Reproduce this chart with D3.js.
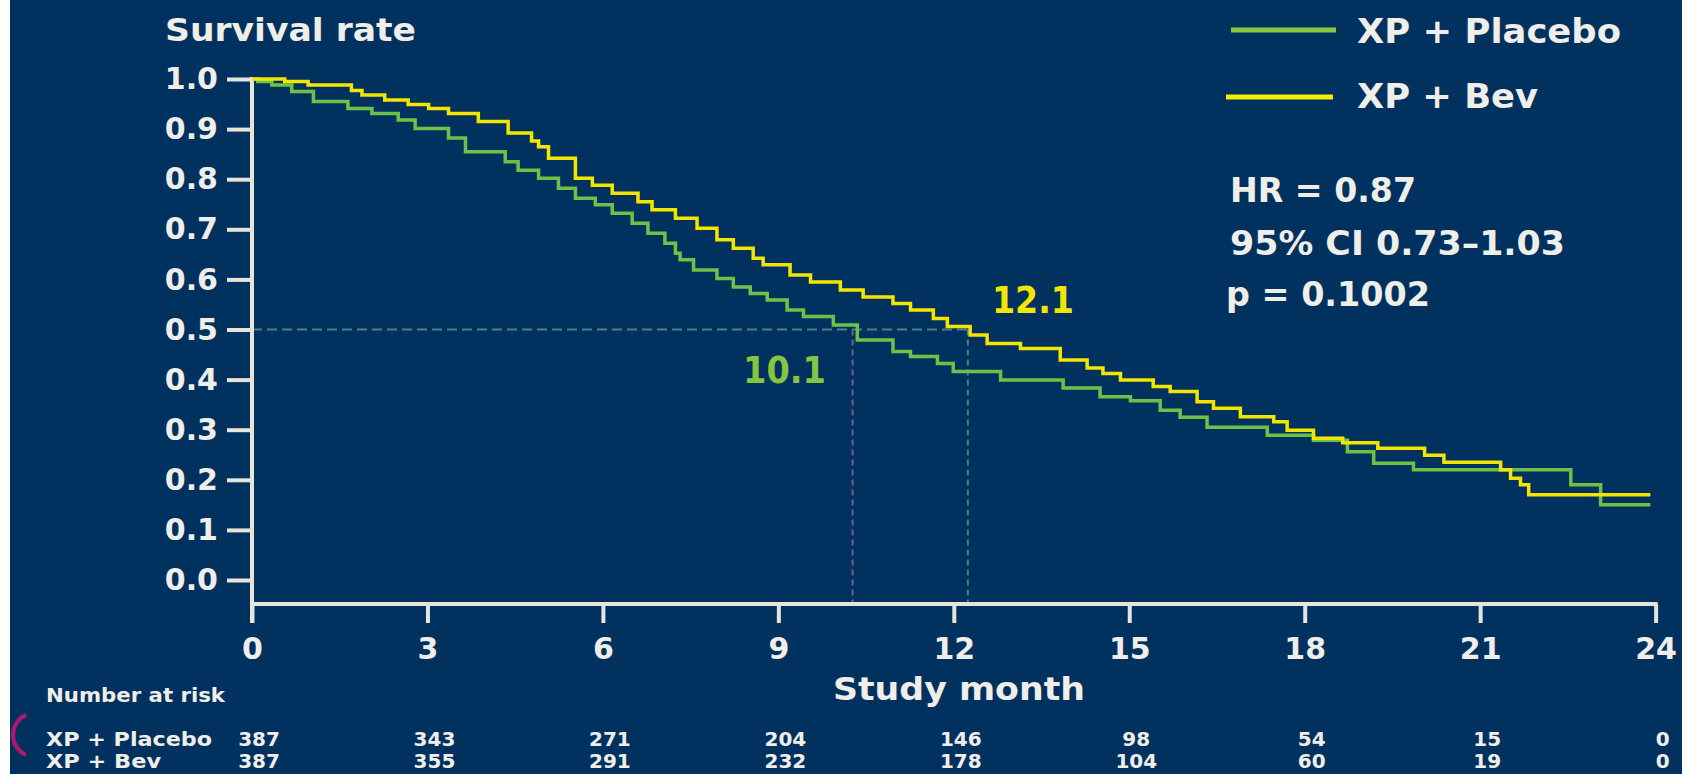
<!DOCTYPE html>
<html>
<head>
<meta charset="utf-8">
<title>Overall survival: XP + Bev vs XP + Placebo</title>
<style>
  html, body { margin: 0; padding: 0; background: #01325f; }
  svg { display: block; }
  text { font-family: "DejaVu Sans", sans-serif; font-weight: bold; fill: #f0eee8; }
</style>
</head>
<body>
<svg id="chart"></svg>
<script src="https://cdn.jsdelivr.net/npm/d3@7"></script>
<script>
// ---- data ----
const monthTicks = [0, 3, 6, 9, 12, 15, 18, 21, 24]
const survivalTicks = [0, 0.1, 0.2, 0.3, 0.4, 0.5, 0.6, 0.7, 0.8, 0.9, 1.0]

const seriesNames = ['XP + Placebo', 'XP + Bev']

// [month, survival] at each visible step
const placeboSteps = [
  [0, 1.0], [0.10, 0.995], [0.34, 0.988], [0.68, 0.975], [1.05, 0.955], [1.64, 0.941],
  [2.05, 0.931], [2.50, 0.918], [2.79, 0.901], [3.36, 0.882], [3.65, 0.855], [4.33, 0.835],
  [4.55, 0.818], [4.90, 0.802], [5.24, 0.782], [5.53, 0.762], [5.87, 0.749], [6.16, 0.732],
  [6.50, 0.712], [6.77, 0.692], [7.06, 0.672], [7.24, 0.652], [7.32, 0.639], [7.55, 0.619],
  [7.95, 0.602], [8.23, 0.585], [8.52, 0.572], [8.81, 0.559], [9.15, 0.539], [9.43, 0.526],
  [9.94, 0.509], [10.35, 0.479], [10.96, 0.456], [11.26, 0.446], [11.72, 0.432], [11.99, 0.416],
  [12.80, 0.399], [13.87, 0.383], [14.50, 0.366], [15.02, 0.358], [15.53, 0.339], [15.87, 0.325],
  [16.33, 0.305], [17.36, 0.289], [18.15, 0.279], [18.73, 0.256], [19.18, 0.233], [19.86, 0.220],
  [22.55, 0.190], [23.06, 0.150], [23.91, 0.150]
]

const bevSteps = [
  [0, 1.0], [0.56, 0.995], [0.96, 0.988], [1.70, 0.977], [1.88, 0.968], [2.27, 0.958],
  [2.67, 0.949], [3.02, 0.941], [3.36, 0.931], [3.87, 0.915], [4.38, 0.892], [4.78, 0.876],
  [4.90, 0.865], [5.07, 0.842], [5.53, 0.802], [5.82, 0.788], [6.16, 0.772], [6.60, 0.755],
  [6.84, 0.739], [7.24, 0.722], [7.61, 0.702], [7.95, 0.679], [8.23, 0.662], [8.57, 0.642],
  [8.74, 0.629], [9.20, 0.609], [9.55, 0.595], [10.06, 0.579], [10.45, 0.565], [10.96, 0.552],
  [11.26, 0.539], [11.65, 0.522], [11.89, 0.506], [12.28, 0.489], [12.57, 0.472], [13.14, 0.462],
  [13.82, 0.439], [14.28, 0.423], [14.55, 0.412], [14.85, 0.399], [15.41, 0.386], [15.70, 0.376],
  [16.16, 0.356], [16.44, 0.343], [16.90, 0.326], [17.47, 0.316], [17.70, 0.299], [18.15, 0.283],
  [18.65, 0.274], [19.25, 0.263], [20.05, 0.249], [20.38, 0.235], [21.35, 0.220], [21.52, 0.203],
  [21.69, 0.190], [21.83, 0.170], [23.91, 0.170]
]

const riskPlacebo = [387, 343, 271, 204, 146, 98, 54, 15, 0]
const riskBev = [387, 355, 291, 232, 178, 104, 60, 19, 0]

const medianLabels = ['10.1', '12.1']
const medianLineMonths = [10.27, 12.24]   // where the dotted drop lines sit in the picture
const statsLines = ['HR = 0.87', '95% CI 0.73\u20131.03', 'p = 0.1002']

// ---- layout ----
const WIDTH = 1682
const HEIGHT = 774
const AXIS_Y = 604
const GREEN = '#6cc247'
const YELLOW = '#f2e600'
const AXIS_COLOR = '#e8e4da'

const svg = d3.select('#chart')
    .attr('width', WIDTH)
    .attr('height', HEIGHT)

svg.append('rect')
    .attr('width', WIDTH).attr('height', HEIGHT)
    .attr('fill', '#01325f')

// white strip on the left edge of the slide
svg.append('rect')
    .attr('x', 0).attr('y', 0).attr('width', 10).attr('height', HEIGHT)
    .attr('fill', '#ffffff')

const x = d3.scaleLinear().domain([0, 24]).range([252, 1655.6])
const y = d3.scaleLinear().domain([0, 1]).range([580, 79])

// reference lines at median survival
const refs = svg.append('g').attr('class', 'refs')
refs.append('line')
    .attr('x1', x(0)).attr('x2', x(medianLineMonths[1]))
    .attr('y1', y(0.5)).attr('y2', y(0.5))
    .attr('stroke', '#4d8084').attr('stroke-width', 2)
    .attr('stroke-dasharray', '10,5')
refs.selectAll('line.drop')
    .data(medianLineMonths)
    .enter().append('line')
    .attr('class', 'drop')
    .attr('x1', d => x(d)).attr('x2', d => x(d))
    .attr('y1', y(0.5)).attr('y2', AXIS_Y)
    .attr('stroke', (d, i) => i === 0 ? '#6d5f92' : '#4d8084')
    .attr('stroke-width', 2)
    .attr('stroke-dasharray', '6,4')

// axes
const yAxis = d3.axisLeft(y)
    .tickValues(survivalTicks)
    .tickFormat(d3.format('.1f'))
    .tickSize(25)
    .tickPadding(9)
const yAxisG = svg.append('g')
    .attr('transform', `translate(${x(0)},0)`)
    .call(yAxis)

const xAxis = d3.axisBottom(x)
    .tickValues(monthTicks)
    .tickSize(19)
    .tickPadding(15)
const xAxisG = svg.append('g')
    .attr('transform', `translate(0,${AXIS_Y})`)
    .call(xAxis)

for (const g of [yAxisG, xAxisG]) {
    g.select('.domain').remove()
    g.selectAll('.tick line').attr('stroke', AXIS_COLOR).attr('stroke-width', 4)
    g.selectAll('.tick text')
        .attr('fill', '#f0eee8')
        .attr('font-family', '"DejaVu Sans", sans-serif')
        .attr('font-weight', 'bold')
        .attr('font-size', 30)
}

svg.append('line')
    .attr('x1', x(0)).attr('x2', x(0))
    .attr('y1', y(1) - 2).attr('y2', AXIS_Y + 19)
    .attr('stroke', AXIS_COLOR).attr('stroke-width', 4)
svg.append('line')
    .attr('x1', x(0) - 2).attr('x2', x(24) + 2)
    .attr('y1', AXIS_Y).attr('y2', AXIS_Y)
    .attr('stroke', AXIS_COLOR).attr('stroke-width', 4)

// survival curves
const stepLine = d3.line()
    .x(d => x(d[0]))
    .y(d => y(d[1]))
    .curve(d3.curveStepAfter)

svg.append('path')
    .datum(placeboSteps)
    .attr('d', stepLine)
    .attr('fill', 'none')
    .attr('stroke', GREEN)
    .attr('stroke-width', 3.5)

svg.append('path')
    .datum(bevSteps)
    .attr('d', stepLine)
    .attr('fill', 'none')
    .attr('stroke', YELLOW)
    .attr('stroke-width', 3.5)

// titles
svg.append('text')
    .attr('x', 165).attr('y', 41)
    .attr('font-size', 32)
    .attr('textLength', 251).attr('lengthAdjust', 'spacingAndGlyphs')
    .text('Survival rate')

svg.append('text')
    .attr('x', 833).attr('y', 700)
    .attr('font-size', 32)
    .attr('textLength', 252).attr('lengthAdjust', 'spacingAndGlyphs')
    .text('Study month')

// median labels
svg.append('text')
    .attr('x', 743).attr('y', 383)
    .attr('font-size', 37)
    .attr('textLength', 83).attr('lengthAdjust', 'spacingAndGlyphs')
    .style('fill', '#86c443')
    .text(medianLabels[0])
svg.append('text')
    .attr('x', 992).attr('y', 313)
    .attr('font-size', 37)
    .attr('textLength', 82).attr('lengthAdjust', 'spacingAndGlyphs')
    .style('fill', YELLOW)
    .text(medianLabels[1])

// legend
const legendRows = [
    {name: seriesNames[0], color: '#8cc63f', lineY: 30, x1: 1231, x2: 1336, textY: 43, width: 264},
    {name: seriesNames[1], color: '#f2f000', lineY: 97, x1: 1226, x2: 1333, textY: 108, width: 181}
]
const legend = svg.append('g').attr('class', 'legend')
legend.selectAll('line')
    .data(legendRows)
    .enter().append('line')
    .attr('x1', d => d.x1).attr('x2', d => d.x2)
    .attr('y1', d => d.lineY).attr('y2', d => d.lineY)
    .attr('stroke', d => d.color)
    .attr('stroke-width', 5)
legend.selectAll('text')
    .data(legendRows)
    .enter().append('text')
    .attr('x', 1357).attr('y', d => d.textY)
    .attr('font-size', 34)
    .attr('textLength', d => d.width).attr('lengthAdjust', 'spacingAndGlyphs')
    .text(d => d.name)

// hazard ratio block
const statsLayout = [
    {x: 1230, y: 202, width: 186},
    {x: 1230, y: 255, width: 335},
    {x: 1226, y: 306, width: 204}
]
svg.append('g').selectAll('text')
    .data(statsLines)
    .enter().append('text')
    .attr('x', (d, i) => statsLayout[i].x)
    .attr('y', (d, i) => statsLayout[i].y)
    .attr('font-size', 33)
    .attr('textLength', (d, i) => statsLayout[i].width)
    .attr('lengthAdjust', 'spacingAndGlyphs')
    .text(d => d)

// number at risk table
const risk = svg.append('g').attr('class', 'risk')
risk.append('text')
    .attr('x', 46).attr('y', 702)
    .attr('font-size', 20)
    .attr('textLength', 179).attr('lengthAdjust', 'spacingAndGlyphs')
    .text('Number at risk')

const riskRows = [
    {name: seriesNames[0], values: riskPlacebo, y: 746, width: 166},
    {name: seriesNames[1], values: riskBev, y: 768, width: 115}
]
riskRows.forEach(row => {
    risk.append('text')
        .attr('x', 46).attr('y', row.y)
        .attr('font-size', 20)
        .attr('textLength', row.width).attr('lengthAdjust', 'spacingAndGlyphs')
        .text(row.name)
    risk.selectAll(null)
        .data(row.values)
        .enter().append('text')
        .attr('x', (d, i) => x(monthTicks[i]) + 7)
        .attr('y', row.y)
        .attr('text-anchor', 'middle')
        .attr('font-size', 20)
        .text(d => d)
})

// the pointer ring cut by the left edge
svg.append('path')
    .attr('transform', 'translate(35,735)')
    .attr('d', d3.arc().innerRadius(20).outerRadius(24).startAngle(-2.72).endAngle(-0.42)())
    .attr('fill', '#b0186e')
</script>
</body>
</html>
